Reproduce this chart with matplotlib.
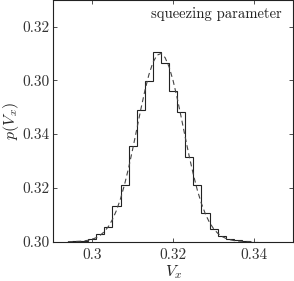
import matplotlib
matplotlib.use("Agg")
import matplotlib.pyplot as plt
import numpy as np

# ---- data ----
bin_edges = [0.295, 0.297, 0.299, 0.301, 0.303, 0.305, 0.307, 0.309, 0.311,
             0.313, 0.315, 0.317, 0.319, 0.321, 0.323, 0.325, 0.327, 0.329,
             0.331, 0.333, 0.335, 0.337, 0.339, 0.341]
hist_values = [0.005, 0.015, 0.045, 0.137, 0.267, 0.662, 1.052, 1.776, 2.456,
               2.987, 3.525, 3.321, 2.800, 2.406, 1.566, 1.052, 0.538, 0.230,
               0.106, 0.056, 0.026, 0.010, 0.003]

fit_x = [0.294, 0.295, 0.296, 0.297, 0.298, 0.299, 0.300, 0.301, 0.302, 0.303,
         0.304, 0.305, 0.306, 0.307, 0.308, 0.309, 0.310, 0.311, 0.312, 0.313,
         0.314, 0.315, 0.316, 0.317, 0.318, 0.319, 0.320, 0.321, 0.322, 0.323,
         0.324, 0.325, 0.326, 0.327, 0.328, 0.329, 0.330, 0.331, 0.332, 0.333,
         0.334, 0.335, 0.336, 0.337, 0.338, 0.339, 0.340]
fit_y = [0.001, 0.002, 0.005, 0.008, 0.015, 0.027, 0.046, 0.075, 0.120, 0.187,
         0.281, 0.411, 0.581, 0.798, 1.063, 1.373, 1.719, 2.086, 2.455, 2.802,
         3.102, 3.330, 3.466, 3.498, 3.423, 3.249, 2.990, 2.668, 2.309, 1.937,
         1.576, 1.244, 0.951, 0.706, 0.508, 0.354, 0.240, 0.157, 0.100, 0.062,
         0.037, 0.021, 0.012, 0.007, 0.004, 0.002, 0.001]

x_ticks = [0.30, 0.32, 0.34]
x_tick_labels = ["0.3", "0.32", "0.34"]
y_ticks = [0, 1, 2, 3, 4]
y_tick_labels = ["0.30", "0.32", "0.34", "0.30", "0.32"]

plt.rcParams["font.family"] = ["cmr10", "DejaVu Serif"]
plt.rcParams["mathtext.fontset"] = "cm"
plt.rcParams["axes.formatter.use_mathtext"] = True

fig = plt.figure(figsize=(2.94, 2.81), dpi=100)
ax = fig.add_axes([53.3 / 294, 1 - 241.7 / 281, (293 - 53.3) / 294, 241.4 / 281])

ax.stairs(hist_values, bin_edges, color="#222222", lw=0.8, baseline=0)
ax.plot(fit_x, fit_y, color="#444444", lw=0.8, linestyle=(0, (4.5, 3)))

ax.set_xlim(0.2904, 0.3496)
ax.set_ylim(0, 4.487)
ax.set_xticks(x_ticks)
ax.set_xticklabels(x_tick_labels)
ax.set_yticks(y_ticks)
ax.set_yticklabels(y_tick_labels)

ax.tick_params(direction="in", top=True, right=True, length=3, width=0.6,
               labelsize=11, colors="#333333")
ax.tick_params(axis="x", pad=4.5)
ax.tick_params(axis="y", pad=2.5)
for s in ax.spines.values():
    s.set_linewidth(0.8)
    s.set_color("#222222")

ax.set_xlabel("$V_x$", fontsize=11.5, color="#222222", labelpad=1)
ax.set_ylabel("$p(V_x)$", fontsize=11.5, color="#222222", labelpad=1)

ax.text(0.952, 0.925, "squeezing parameter", transform=ax.transAxes,
        ha="right", va="baseline", fontsize=10.6, color="#222222")

fig.savefig("out.png", dpi=100)
